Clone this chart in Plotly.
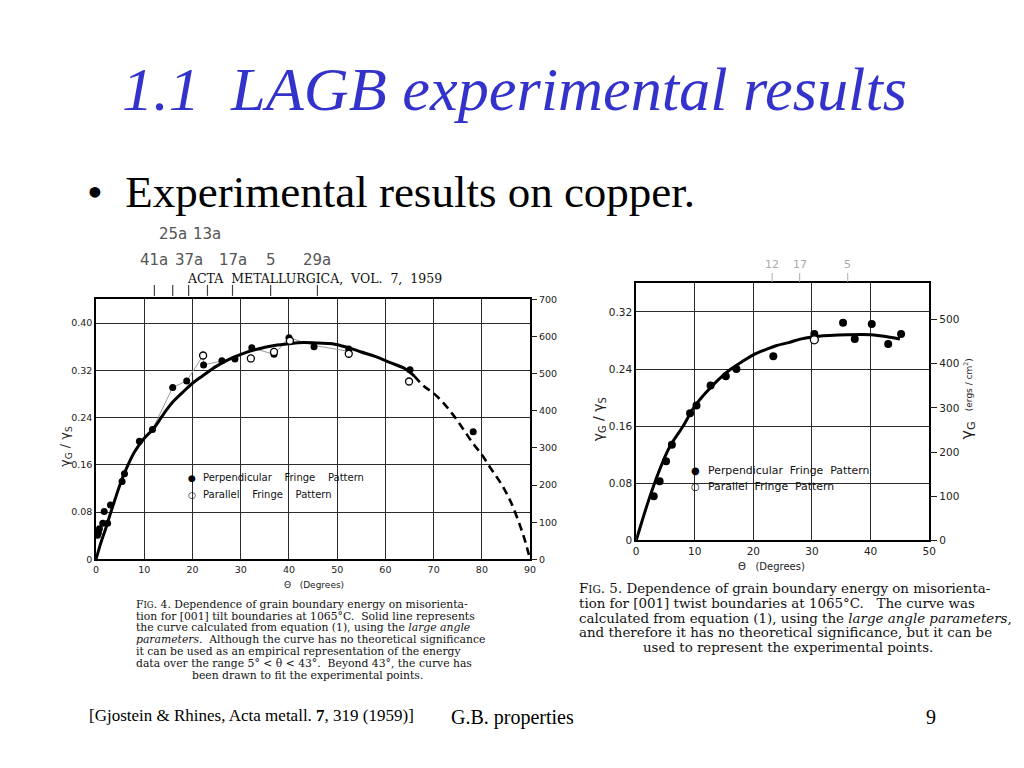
import plotly.graph_objects as go

# calibration of page placement (screen = 10 + 0.99 * figure pixel)
W, H = 1024, 768
SX, CX, CY = 0.99, 10.0, 10.5
def PX(x): return ((x - CX) / SX) / W
def PY(y): return 1 - ((y - CY) / SX) / H

# ---------------- data: Fig. 4 (tilt boundaries) ----------------
tilt_curve_theta = [0, 1, 2, 3, 4, 5, 6, 8, 10, 12, 14, 16, 18, 20, 22, 25, 28, 31, 34, 37, 40,
                    43, 46, 49, 52, 55, 58, 61, 64, 66]
tilt_curve_gamma = [0, 0.028, 0.052, 0.078, 0.103, 0.127, 0.148, 0.182, 0.205, 0.222, 0.246, 0.267,
                    0.283, 0.298, 0.31, 0.327, 0.34, 0.35, 0.357, 0.362, 0.365, 0.367, 0.366, 0.365,
                    0.359, 0.351, 0.343, 0.333, 0.323, 0.31]
tilt_dash_theta = [66, 68, 70, 72, 74, 76, 78, 80, 82, 84, 86, 88, 89, 90]
tilt_dash_gamma = [0.31, 0.293, 0.281, 0.265, 0.245, 0.222, 0.198, 0.177, 0.152, 0.128, 0.097,
                   0.055, 0.03, 0]

tilt_perp_theta = [0.3, 0.5, 0.7, 1.4, 1.7, 2.4, 3.0, 5.4, 5.9, 9.0, 11.7, 15.9, 18.8, 22.3, 26.1,
                   28.8, 32.3, 36.9, 40.0, 45.2, 52.4, 65.1, 78.2]
tilt_perp_gamma = [0.041, 0.045, 0.052, 0.061, 0.081, 0.061, 0.092, 0.132, 0.145, 0.200, 0.220,
                   0.291, 0.302, 0.329, 0.336, 0.339, 0.358, 0.347, 0.375, 0.360, 0.356, 0.321, 0.216]
tilt_par_theta = [22.2, 32.1, 36.9, 40.2, 52.4, 64.9]
tilt_par_gamma = [0.345, 0.340, 0.351, 0.370, 0.348, 0.301]

hand_theta = [11.7, 15.9, 18.8, 22.2, 22.3, 26.1, 28.8, 32.3, 36.9, 40.0, 45.2, 52.4]
hand_gamma = [0.220, 0.291, 0.302, 0.345, 0.329, 0.336, 0.339, 0.358, 0.347, 0.375, 0.362, 0.352]

sigma_theta = [12.1, 15.9, 19.2, 23.1, 28.3, 36.2, 45.9]
sigma_labels = ["41a", "25a", "37a", "13a", "17a", "5", "29a"]
sigma_row = [0, 1, 0, 1, 0, 0, 0]

tilt_x_ticks = [0, 10, 20, 30, 40, 50, 60, 70, 80, 90]
tilt_y_ticks = [0, 0.08, 0.16, 0.24, 0.32, 0.40]
tilt_y_text = ["0", "0.08", "0.16", "0.24", "0.32", "0.40"]
tilt_erg_ticks = [0, 100, 200, 300, 400, 500, 600, 700]

# ---------------- data: Fig. 5 (twist boundaries) ----------------
twist_curve_theta = [0, 1, 2, 3, 4, 5, 6, 8, 10, 12, 14, 16, 18, 20, 22, 24, 26, 28, 30, 33, 36,
                     40, 43, 45]
twist_curve_gamma = [0, 0.027, 0.053, 0.077, 0.099, 0.119, 0.135, 0.160, 0.188, 0.208, 0.225,
                     0.239, 0.250, 0.260, 0.267, 0.273, 0.277, 0.282, 0.285, 0.287, 0.288, 0.288,
                     0.285, 0.282]
twist_perp_theta = [3.0, 4.0, 5.1, 6.1, 9.2, 10.3, 12.7, 15.3, 17.1, 23.4, 30.4, 35.3, 37.3, 40.2,
                    43.0, 45.2]
twist_perp_gamma = [0.062, 0.083, 0.111, 0.134, 0.178, 0.189, 0.217, 0.230, 0.240, 0.258, 0.289,
                    0.305, 0.282, 0.303, 0.275, 0.289]
twist_par_theta = [30.4]
twist_par_gamma = [0.281]

twist_sigma_theta = [23.2, 27.9, 36.1]
twist_sigma_labels = ["12", "17", "5"]

twist_x_ticks = [0, 10, 20, 30, 40, 50]
twist_y_ticks = [0, 0.08, 0.16, 0.24, 0.32]
twist_y_text = ["0", "0.08", "0.16", "0.24", "0.32"]
twist_erg_ticks = [0, 100, 200, 300, 400, 500]

# ---------------- figure ----------------
fig = go.Figure()

fig.add_trace(go.Scatter(x=hand_theta, y=hand_gamma, mode="lines",
                         line=dict(color="#9a9a9a", width=1), xaxis="x", yaxis="y",
                         showlegend=False, hoverinfo="skip"))
fig.add_trace(go.Scatter(x=tilt_curve_theta, y=tilt_curve_gamma, mode="lines",
                         line=dict(color="black", width=3, shape="spline"), xaxis="x", yaxis="y",
                         showlegend=False))
fig.add_trace(go.Scatter(x=tilt_dash_theta, y=tilt_dash_gamma, mode="lines",
                         line=dict(color="black", width=2.6, dash="8px,5px", shape="spline"),
                         xaxis="x", yaxis="y", showlegend=False))
fig.add_trace(go.Scatter(x=tilt_perp_theta, y=tilt_perp_gamma, mode="markers",
                         marker=dict(symbol="circle", size=7, color="black"),
                         xaxis="x", yaxis="y", name="Perpendicular Fringe Pattern", showlegend=False))
fig.add_trace(go.Scatter(x=tilt_par_theta, y=tilt_par_gamma, mode="markers",
                         marker=dict(symbol="circle", size=7, color="white",
                                     line=dict(color="black", width=1.3)),
                         xaxis="x", yaxis="y", name="Parallel Fringe Pattern", showlegend=False))
fig.add_trace(go.Scatter(x=[None], y=[None], xaxis="x", yaxis="y2", showlegend=False))

fig.add_trace(go.Scatter(x=twist_curve_theta, y=twist_curve_gamma, mode="lines",
                         line=dict(color="black", width=3, shape="spline"), xaxis="x2", yaxis="y3",
                         showlegend=False))
fig.add_trace(go.Scatter(x=twist_perp_theta, y=twist_perp_gamma, mode="markers",
                         marker=dict(symbol="circle", size=8, color="black"),
                         xaxis="x2", yaxis="y3", showlegend=False))
fig.add_trace(go.Scatter(x=twist_par_theta, y=twist_par_gamma, mode="markers",
                         marker=dict(symbol="circle", size=8, color="white",
                                     line=dict(color="black", width=1.3)),
                         xaxis="x2", yaxis="y3", showlegend=False))
fig.add_trace(go.Scatter(x=[None], y=[None], xaxis="x2", yaxis="y4", showlegend=False))

axfont_l = dict(family="DejaVu Sans", size=9.5, color="#222")
axfont_r = dict(family="DejaVu Sans", size=10.5, color="#222")
grid = dict(showgrid=True, gridcolor="#2a2a2a", gridwidth=1.2, zeroline=False,
            showline=True, linecolor="black", linewidth=1.6, mirror=True, ticks="")

fig.update_layout(
    width=W, height=H, margin=dict(l=0, r=0, t=0, b=0),
    paper_bgcolor="white", plot_bgcolor="white", showlegend=False,
    xaxis=dict(domain=[PX(95), PX(529)], range=[0, 90], tickvals=tilt_x_ticks,
               tickfont=axfont_l, anchor="y", **grid),
    yaxis=dict(domain=[PY(559), PY(297.5)], range=[0, 0.44], tickvals=tilt_y_ticks,
               ticktext=tilt_y_text, tickfont=axfont_l, anchor="x", **grid),
    yaxis2=dict(overlaying="y", side="right", range=[0, 700], tickvals=tilt_erg_ticks,
                ticks="outside", ticklen=6, tickcolor="#222", showgrid=False, zeroline=False,
                tickfont=axfont_l, anchor="x"),
    xaxis2=dict(domain=[PX(635), PX(928)], range=[0, 50], tickvals=twist_x_ticks,
                tickfont=axfont_r, anchor="y3", **grid),
    yaxis3=dict(domain=[PY(540), PY(280.7)], range=[0, 0.361], tickvals=twist_y_ticks,
                ticktext=twist_y_text, tickfont=axfont_r, anchor="x2", **grid),
    yaxis4=dict(overlaying="y3", side="right", range=[0, 583], tickvals=twist_erg_ticks,
                ticks="outside", ticklen=7, tickcolor="#222", showgrid=False, zeroline=False,
                tickfont=axfont_r, anchor="x2"),
)

shapes = []
shapes.append(dict(type="rect", xref="paper", yref="paper", x0=PX(185), x1=PX(372),
                   y0=PY(502), y1=PY(468), fillcolor="white", line=dict(width=0), layer="between"))
shapes.append(dict(type="rect", xref="paper", yref="paper", x0=PX(686), x1=PX(871),
                   y0=PY(478), y1=PY(461), fillcolor="white", line=dict(width=0), layer="between"))
shapes.append(dict(type="rect", xref="paper", yref="paper", x0=PX(686), x1=PX(838),
                   y0=PY(494), y1=PY(477), fillcolor="white", line=dict(width=0), layer="between"))
for t in sigma_theta:
    shapes.append(dict(type="line", xref="x", yref="paper", x0=t, x1=t, y0=PY(294), y1=PY(283),
                       line=dict(color="#444", width=1.2)))
for t in twist_sigma_theta:
    shapes.append(dict(type="line", xref="x2", yref="paper", x0=t, x1=t, y0=PY(280), y1=PY(271),
                       line=dict(color="#aaa", width=1)))
fig.update_layout(shapes=shapes)

ann = []
def A(x, y, text, size, family="DejaVu Sans", color="black", xanchor="center", angle=0, **kw):
    ann.append(dict(x=PX(x), y=PY(y), xref="paper", yref="paper", text=text, showarrow=False,
                    xanchor=xanchor, yanchor="middle", textangle=angle,
                    font=dict(size=size, family=family, color=color), **kw))

A(513, 85, "<i>1.1  LAGB experimental results</i>", 62.3, "Liberation Serif", "#3333CC")
A(84, 190, "•  Experimental results on copper.", 45, "Liberation Serif", "black", xanchor="left")

for t, lab, row in zip(sigma_theta, sigma_labels, sigma_row):
    ann.append(dict(x=t, y=PY(258 if row == 0 else 232), xref="x", yref="paper", text=lab,
                    showarrow=False, yanchor="middle",
                    font=dict(size=15, family="DejaVu Sans", color="#555")))
for t, lab in zip(twist_sigma_theta, twist_sigma_labels):
    ann.append(dict(x=t, y=PY(262), xref="x2", yref="paper", text=lab, showarrow=False,
                    yanchor="middle", font=dict(size=11, family="DejaVu Sans", color="#aaa")))

A(313, 277, "ACTA  METALLURGICA,  VOL.  7,  1959", 12.5, "DejaVu Serif", "#111")

A(64, 446, "γ<sub>G</sub> / γ<sub>S</sub>", 13, "DejaVu Sans", "#222", angle=-90)
A(313, 585, "Θ   (Degrees)", 9, "DejaVu Sans", "#222")
A(598, 418, "γ<sub>G</sub> / γ<sub>S</sub>", 14, "DejaVu Sans", "#222", angle=-90)
A(770, 566, "Θ   (Degrees)", 10, "DejaVu Sans", "#222")
A(966, 398, "γ<sub>G</sub>  <span style='font-size:9px'>(ergs / cm<sup>2</sup>)</span>", 16,
  "DejaVu Sans", "#222", angle=-90)

A(191, 477, "●", 9, "DejaVu Sans", "black")
A(191, 494, "○", 9, "DejaVu Sans", "black")
A(200, 477, "Perpendicular    Fringe    Pattern", 10, "DejaVu Sans", "#111", xanchor="left")
A(200, 494, "Parallel    Fringe    Pattern", 10, "DejaVu Sans", "#111", xanchor="left")
A(694, 470, "●", 10, "DejaVu Sans", "black")
A(694, 486, "○", 10, "DejaVu Sans", "black")
A(705, 470, "Perpendicular  Fringe  Pattern", 10.9, "DejaVu Sans", "#111", xanchor="left")
A(705, 486, "Parallel  Fringe  Pattern", 10.9, "DejaVu Sans", "#111", xanchor="left")

cap4 = [
    "F<span style='font-size:8.5px'>IG</span>. 4. Dependence of grain boundary energy on misorienta-",
    "tion for [001] tilt boundaries at 1065°C.  Solid line represents",
    "the curve calculated from equation (1), using the <i>large angle</i>",
    "<i>parameters</i>.  Although the curve has no theoretical significance",
    "it can be used as an empirical representation of the energy",
    "data over the range 5° &lt; θ &lt; 43°.  Beyond 43°, the curve has",
]
for i, line in enumerate(cap4):
    A(133, 604 + 12 * i, line, 10.8, "DejaVu Serif", "#111", xanchor="left")
A(306, 676, "been drawn to fit the experimental points.", 10.8, "DejaVu Serif", "#111")

cap5 = [
    "F<span style='font-size:10.5px'>IG</span>. 5. Dependence of grain boundary energy on misorienta-",
    "tion for [001] twist boundaries at 1065°C.   The curve was",
    "calculated from equation (1), using the <i>large angle parameters</i>,",
    "and therefore it has no theoretical significance, but it can be",
]
for i, line in enumerate(cap5):
    A(576, 588 + 15 * i, line, 13.4, "DejaVu Serif", "#111", xanchor="left")
A(787, 648, "used to represent the experimental points.", 13.4, "DejaVu Serif", "#111")

A(86, 716, "[Gjostein & Rhines, Acta metall. <b>7</b>, 319 (1959)]", 17, "Liberation Serif",
  "black", xanchor="left")
A(511, 718, "G.B. properties", 20, "Liberation Serif", "black")
A(930, 718, "9", 20, "Liberation Serif", "black")

fig.update_layout(annotations=ann)
fig.write_html("out.html")
